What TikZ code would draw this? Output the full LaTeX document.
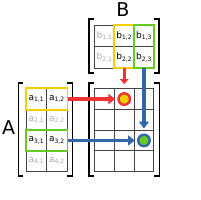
\documentclass[tikz,border=0pt]{standalone}
\usepackage{fontspec}
\setmainfont{DejaVu Sans}
\usetikzlibrary{arrows.meta}
\definecolor{cred}{HTML}{EE3333}
\definecolor{cyel}{HTML}{F2D000}
\definecolor{cgrn}{HTML}{66CC22}
\definecolor{cblu}{HTML}{3366AA}
\definecolor{cgray}{HTML}{AAAAAA}
\definecolor{cline}{HTML}{444444}
\tikzset{
  acell/.style={draw=cline, line width=0.8pt, minimum width=20.5pt, minimum height=20.7pt, inner sep=0pt, anchor=north west, font=\fontsize{9}{9}\selectfont},
  bcell/.style={acell, minimum width=19.7pt, minimum height=21.3pt},
  ccell/.style={acell, minimum width=19.7pt, minimum height=20.7pt},
  dim/.style={text=cgray},
  brk/.style={line width=1.6pt, black},
  bigarrow/.style={line width=3.6pt, -{Triangle[length=7pt,width=10pt]}},
  smallarrow/.style={line width=3pt, -{Triangle[length=5pt,width=8.5pt]}},
  hl/.style={line width=1.8pt},
  dot/.style={circle, line width=2.4pt, minimum size=11.5pt, inner sep=0pt},
  lbl/.style={font=\fontsize{19}{19}\selectfont}
}
\newcommand{\ent}[3]{#1\textsubscript{#2,#3}}
\begin{document}
\begin{tikzpicture}[x=1pt,y=-1pt]
\useasboundingbox (0,0) rectangle (200,200);
% Matrix A
\foreach \r in {1,...,4}{
  \foreach \c in {1,2}{
    \pgfmathsetmacro{\xx}{25.7+(\c-1)*20.5}
    \pgfmathsetmacro{\yy}{88.3+(\r-1)*20.7}
    \ifnum\r=1 \def\st{}\else\ifnum\r=3 \def\st{}\else\def\st{dim}\fi\fi
    \node[acell,\st] (a\r\c) at (\xx,\yy) {\ent{a}{\r}{\c}};
  }
}
% Matrix B
\foreach \r in {1,2}{
  \foreach \c in {1,2,3}{
    \pgfmathsetmacro{\xx}{94.3+(\c-1)*19.7}
    \pgfmathsetmacro{\yy}{25+(\r-1)*21.3}
    \ifnum\c=1 \def\st{dim}\else\def\st{}\fi
    \node[bcell,\st] (b\r\c) at (\xx,\yy) {\ent{b}{\r}{\c}};
  }
}
% Matrix C
\foreach \r in {1,...,4}{
  \foreach \c in {1,2,3}{
    \pgfmathsetmacro{\xx}{94.3+(\c-1)*19.7}
    \pgfmathsetmacro{\yy}{88.3+(\r-1)*20.7}
    \node[ccell] (c\r\c) at (\xx,\yy) {};
  }
}
% highlights
\draw[hl, cyel] (a11.north west) rectangle (a12.south east);
\draw[hl, cgrn] (a31.north west) rectangle (a32.south east);
\draw[hl, cyel] (b12.north west) rectangle (b22.south east);
\draw[hl, cgrn] (b13.north west) rectangle (b23.south east);
% brackets
\draw[brk] (23.3,83.3) -- (18.3,83.3) -- (18.3,175.7) -- (23.3,175.7);
\draw[brk] (67.3,83.3) -- (72.3,83.3) -- (72.3,175.7) -- (67.3,175.7);
\draw[brk] (94,19.3) -- (89,19.3) -- (89,73.3) -- (94,73.3);
\draw[brk] (153.7,19.3) -- (158.7,19.3) -- (158.7,73.3) -- (153.7,73.3);
\draw[brk] (94,83.3) -- (89,83.3) -- (89,175.7) -- (94,175.7);
\draw[brk] (154.3,83.3) -- (159.3,83.3) -- (159.3,175.7) -- (154.3,175.7);
% labels
\node[lbl] (la) at (8.5,128) {A};
\node[lbl] (lb) at (123,10) {B};
% dots
\node[dot, draw=cred, fill=cyel] (d1) at (c12.center) {};
\node[dot, draw=cblu, fill=cgrn] (d2) at (c33.center) {};
% arrows
\draw[bigarrow, cred, shorten >=2pt] (a12.east) -- (d1.west);
\draw[smallarrow, cred] (b22.south) -- ([yshift=8pt]d1.north);
\draw[bigarrow, cblu, shorten >=2pt] (a32.east) -- (d2.west);
\draw[bigarrow, cblu, shorten >=5pt] (b23.south) -- (d2.north);
\end{tikzpicture}
\end{document}
